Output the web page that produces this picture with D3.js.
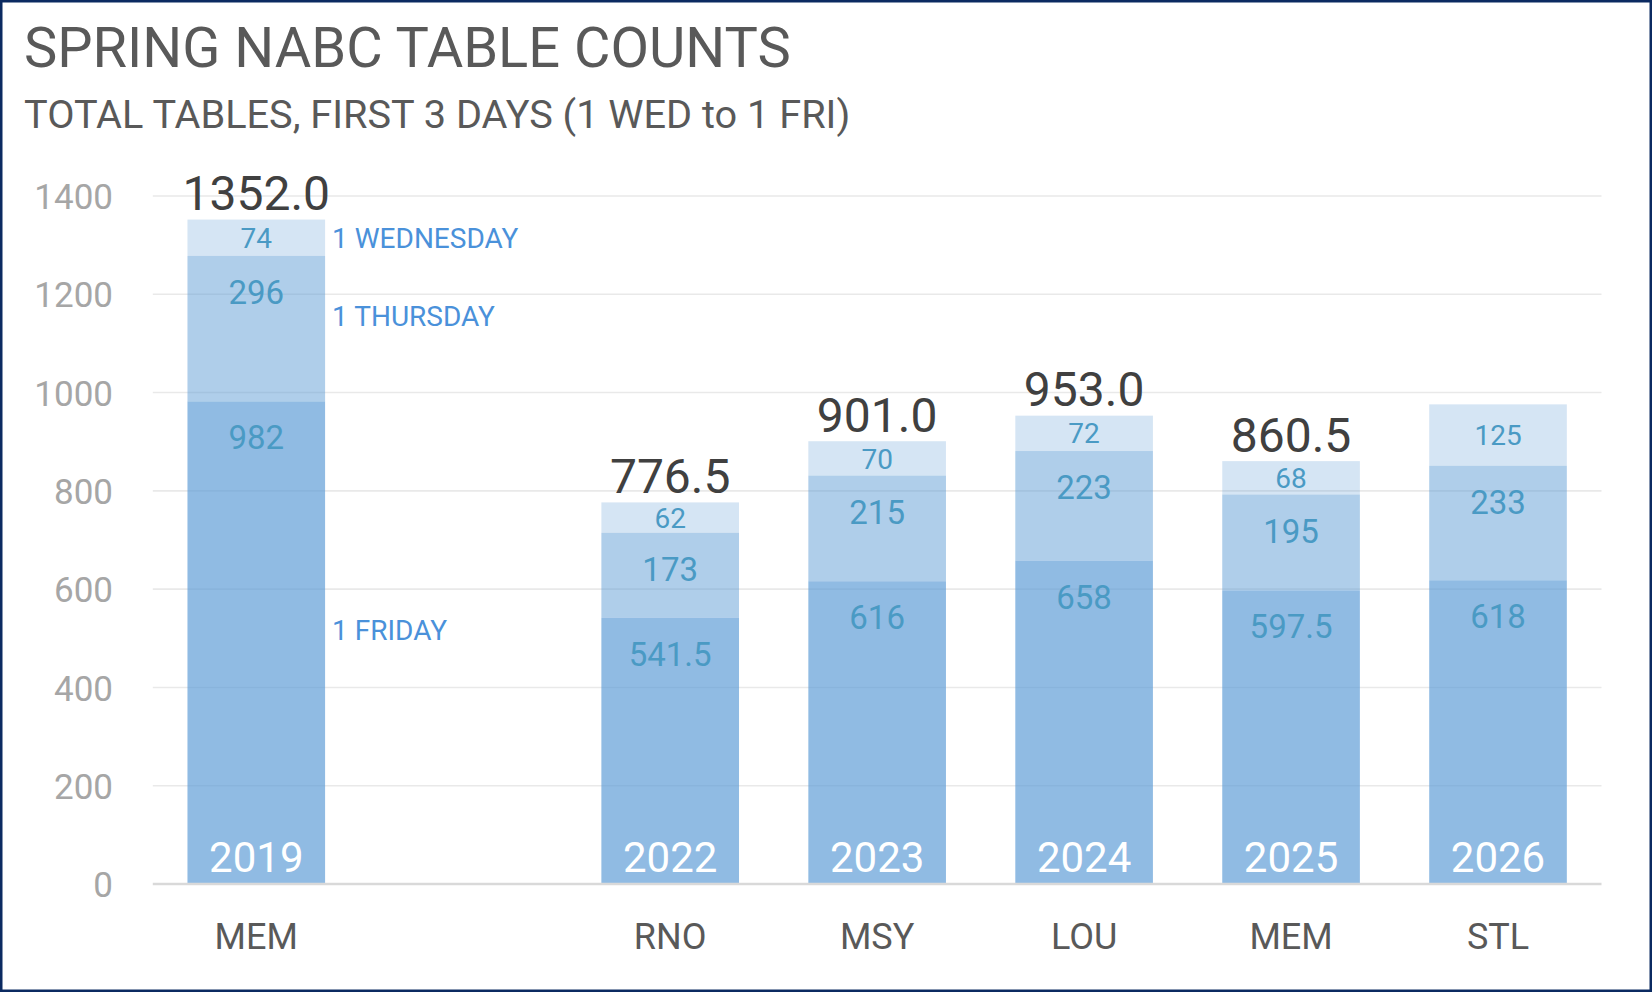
<!DOCTYPE html>
<html>
<head>
<meta charset="utf-8">
<script src="https://cdn.jsdelivr.net/npm/d3@7"></script>
<style>
  html, body { margin: 0; padding: 0; background: #fff; }
  svg { display: block; }
  text { font-family: Roboto, "Liberation Sans", Arial, sans-serif; }
</style>
</head>
<body>
<svg id="chart" width="1652" height="992"></svg>
<script>
// ---- DATA ----
const years     = ["2019", "", "2022", "2023", "2024", "2025", "2026"];
const venues    = ["MEM", "", "RNO", "MSY", "LOU", "MEM", "STL"];
const friday    = [982, null, 541.5, 616, 658, 597.5, 618];
const thursday  = [296, null, 173, 215, 223, 195, 233];
const wednesday = [74, null, 62, 70, 72, 68, 125];
const totals    = [1352.0, null, 776.5, 901.0, 953.0, 860.5, null];
const seriesNames = ["1 FRIDAY", "1 THURSDAY", "1 WEDNESDAY"];
const yTicks    = [0, 200, 400, 600, 800, 1000, 1200, 1400];
const title     = "SPRING NABC TABLE COUNTS";
const subtitle  = "TOTAL TABLES, FIRST 3 DAYS (1 WED to 1 FRI)";

// ---- LAYOUT ----
const W = 1652, H = 992;
const plot = { left: 152.8, right: 1601.5, top: 196, bottom: 884 };
const svg = d3.select("#chart");

svg.append("rect").attr("x", 0).attr("y", 0).attr("width", W).attr("height", H).attr("fill", "#fff");

const x = d3.scaleBand().domain(years).range([plot.left, plot.right]).paddingInner(0.335).paddingOuter(0.1675);
const y = d3.scaleLinear().domain([0, 1400]).range([plot.bottom, plot.top]);

// title
svg.append("text").attr("x", 24).attr("y", 67).attr("fill", "#595959")
  .attr("font-size", 56).text(title);
svg.append("text").attr("x", 24).attr("y", 127.5).attr("fill", "#595959")
  .attr("font-size", 39.7).text(subtitle);

// gridlines
svg.append("g").selectAll("line").data(yTicks.filter(d => d > 0)).join("line")
  .attr("x1", plot.left).attr("x2", plot.right)
  .attr("y1", d => y(d)).attr("y2", d => y(d))
  .attr("stroke", "#E9E9E9").attr("stroke-width", 1.6);

// y axis labels
const yAxis = d3.axisLeft(y).tickValues(yTicks).tickFormat(d3.format("d")).tickSize(0).tickPadding(0);
const gy = svg.append("g").attr("transform", `translate(113,0)`).call(yAxis);
gy.select(".domain").remove();
gy.selectAll("text").attr("font-size", 35).attr("fill", "#A6A6A6")
  .attr("font-family", "Roboto, 'Liberation Sans', Arial, sans-serif")
  .attr("dy", "0.36em");

// stacked data
const rows = years.map((yr, i) => ({ year: yr, fri: friday[i], thu: thursday[i], wed: wednesday[i] }))
  .filter(r => r.fri != null);
const keys = ["fri", "thu", "wed"];
const stack = d3.stack().keys(keys)(rows);
const fills = { fri: 0.68, thu: 0.49, wed: 0.26 };

const gBars = svg.append("g");
stack.forEach(layer => {
  gBars.append("g").selectAll("rect").data(layer).join("rect")
    .attr("x", d => x(d.data.year))
    .attr("width", x.bandwidth())
    .attr("y", d => y(d[1]))
    .attr("height", d => y(d[0]) - y(d[1]))
    .attr("fill", "#5B9BD5")
    .attr("fill-opacity", fills[layer.key]);
});

// axis baseline
svg.append("line").attr("x1", plot.left).attr("x2", plot.right)
  .attr("y1", plot.bottom).attr("y2", plot.bottom)
  .attr("stroke", "#D9D9D9").attr("stroke-width", 2.6);

// value labels
const fmtVal = d => String(d);
stack.forEach(layer => {
  const isWed = layer.key === "wed";
  svg.append("g").selectAll("text").data(layer).join("text")
    .attr("x", d => x(d.data.year) + x.bandwidth() / 2)
    .attr("y", d => isWed ? (y(d[1]) + y(d[0])) / 2 : y(d[1]) + 48)
    .attr("dy", isWed ? "0.36em" : 0)
    .attr("text-anchor", "middle")
    .attr("font-size", isWed ? 28 : 33)
    .attr("fill", "#4A9AC4")
    .text(d => fmtVal(d.data[layer.key]));
});

// totals
svg.append("g").selectAll("text")
  .data(years.map((yr, i) => ({ year: yr, t: totals[i] })).filter(d => d.t != null))
  .join("text")
  .attr("x", d => x(d.year) + x.bandwidth() / 2)
  .attr("y", d => y(d.t) - 9.5)
  .attr("text-anchor", "middle")
  .attr("font-size", 48)
  .attr("fill", "#404040")
  .text(d => d3.format(".1f")(d.t));

// year labels inside bars
svg.append("g").selectAll("text").data(rows).join("text")
  .attr("x", d => x(d.year) + x.bandwidth() / 2)
  .attr("y", plot.bottom - 12)
  .attr("text-anchor", "middle")
  .attr("font-size", 42)
  .attr("fill", "#ffffff")
  .text(d => d.year);

// venue labels
svg.append("g").selectAll("text").data(years.map((yr, i) => ({ year: yr, v: venues[i] })).filter(d => d.v))
  .join("text")
  .attr("x", d => x(d.year) + x.bandwidth() / 2)
  .attr("y", 949)
  .attr("text-anchor", "middle")
  .attr("font-size", 36)
  .attr("fill", "#595959")
  .text(d => d.v);

// series name labels next to first bar
const first = rows[0];
const lx = x(first.year) + x.bandwidth() + 7;
const segs = stack.map(layer => layer[0]);
const seriesOffsets = [-3, -3, 0];
svg.append("g").selectAll("text").data(segs).join("text")
  .attr("x", lx)
  .attr("y", (d, i) => (y(d[0]) + y(d[1])) / 2 + seriesOffsets[i])
  .attr("dy", (d, i) => i === 2 ? "0.36em" : 0)
  .attr("font-size", 28)
  .attr("fill", "#4A91DA")
  .text((d, i) => seriesNames[i]);

// outer border
svg.append("rect").attr("x", 1.25).attr("y", 1.25).attr("width", W - 2.5).attr("height", H - 2.5)
  .attr("fill", "none").attr("stroke", "#0B2A61").attr("stroke-width", 2.5);
</script>
</body>
</html>
